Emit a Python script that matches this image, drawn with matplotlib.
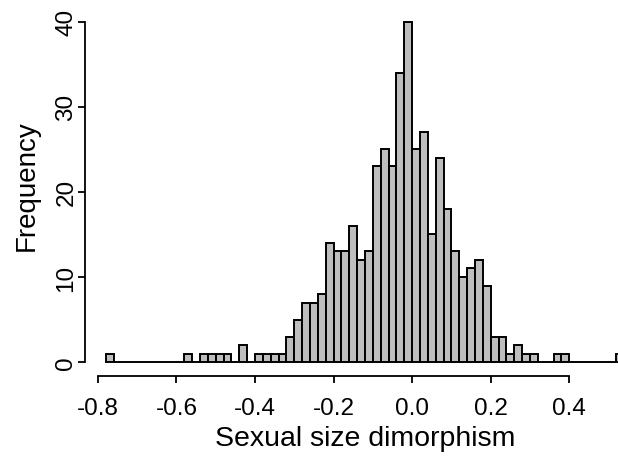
import matplotlib
matplotlib.use('Agg')
import matplotlib.pyplot as plt
import numpy as np

# histogram of sexual size dimorphism, bins of 0.02 starting at -0.78
bin_start = -0.78
bin_width = 0.02
counts = [1, 0, 0, 0, 0, 0, 0, 0, 0, 0,
          1, 0, 1, 1, 1, 1, 0, 2, 0, 1,
          1, 1, 1, 3, 5, 7, 7, 8, 14, 13,
          13, 16, 12, 13, 23, 25, 23, 34, 40, 25,
          27, 15, 24, 18, 13, 10, 11, 12, 9, 3,
          3, 1, 2, 1, 1, 0, 0, 1, 1, 0,
          0, 0, 0, 0, 0, 1]
x_ticks = [-0.8, -0.6, -0.4, -0.2, 0.0, 0.2, 0.4]
y_ticks = [0, 10, 20, 30, 40]

plt.rcParams['font.family'] = ['Liberation Sans', 'DejaVu Sans']

fig = plt.figure(figsize=(6.18, 4.6), dpi=100)
ax = fig.add_axes([85 / 618, 1 - 376.7 / 460, 560 / 618, 367.6 / 460])

lefts = bin_start + bin_width * np.arange(len(counts))
ax.bar(lefts, counts, width=bin_width, align='edge', color='#BEBEBE',
       edgecolor='black', linewidth=1.4)

# R style range: data range padded by 4 %
x_lo, x_hi = bin_start, bin_start + bin_width * len(counts)
pad = 0.04 * (x_hi - x_lo)
ax.set_xlim(x_lo - pad, x_hi + pad)
ax.set_ylim(-0.04 * max(counts), 1.04 * max(counts))

for s in ['top', 'right']:
    ax.spines[s].set_visible(False)
ax.spines['left'].set_bounds(0, 40)
ax.spines['bottom'].set_bounds(-0.8, 0.4)
for s in ['left', 'bottom']:
    ax.spines[s].set_linewidth(1.3)

ax.set_xticks(x_ticks)
ax.set_xticklabels(['%.1f' % v for v in x_ticks])
ax.set_yticks(y_ticks)
ax.tick_params(direction='out', length=5, width=1.3, labelsize=17.5)
ax.tick_params(axis='x', pad=10)
ax.tick_params(axis='y', pad=0.5, labelrotation=90)
for lab in ax.get_yticklabels():
    lab.set_va('center')

ax.set_xlabel('Sexual size dimorphism', fontsize=20.5)
ax.set_ylabel('Frequency', fontsize=20)
ax.xaxis.set_label_coords(0.5, -0.135)
ax.yaxis.set_label_coords(-0.080, 0.52)

fig.savefig('out.png', dpi=100)
